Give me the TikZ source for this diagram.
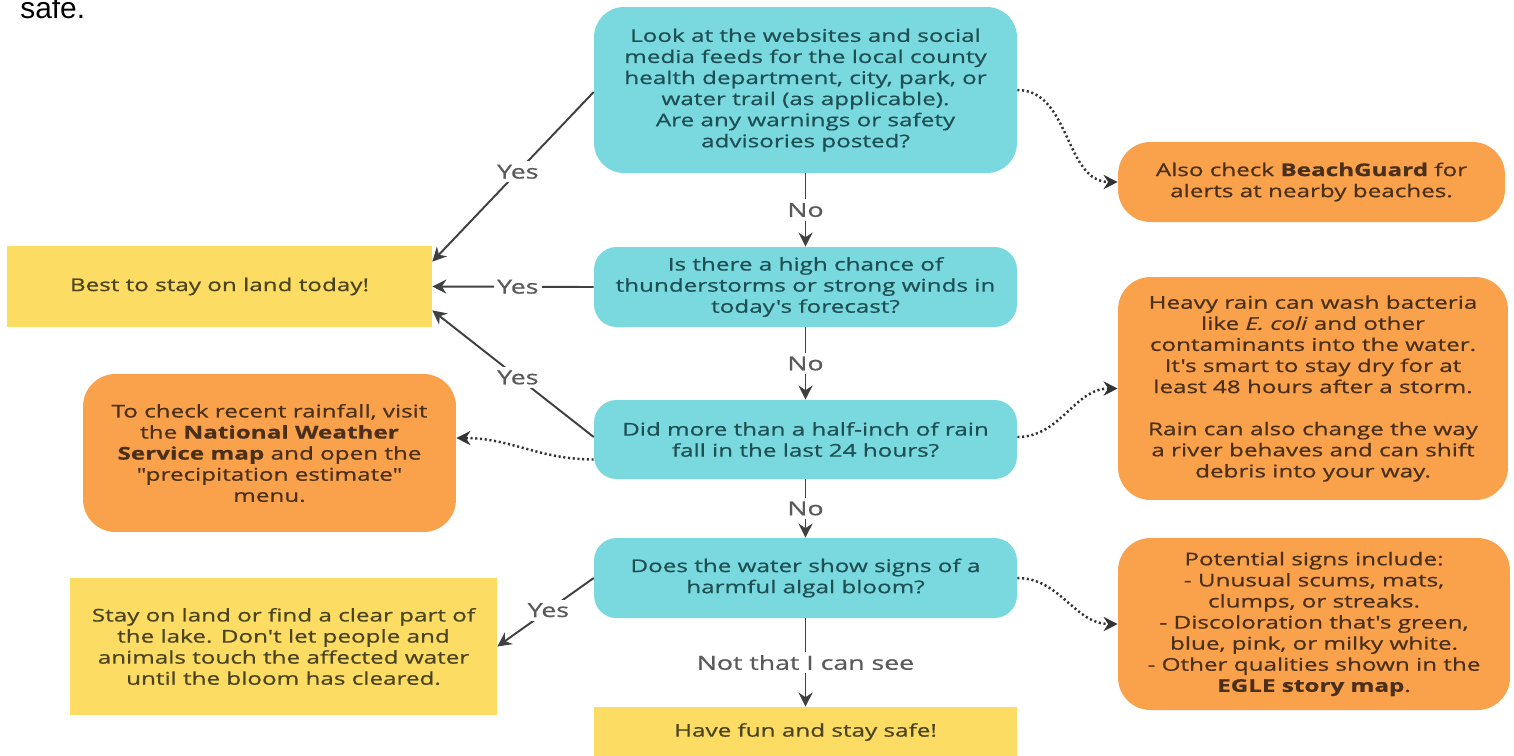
\documentclass[tikz,border=0pt]{standalone}
\usepackage{fontspec}
\setmainfont{Open Sans}[FakeStretch=1.38, FakeBold=0.7, Ligatures=TeXOff]
\newfontfamily\safefont{Liberation Sans}
\usetikzlibrary{arrows.meta}
\definecolor{qcyan}{HTML}{7AD9DF}
\definecolor{qtext}{HTML}{1E4F53}
\definecolor{oorange}{HTML}{F9A24B}
\definecolor{otext}{HTML}{4A2F1A}
\definecolor{yyellow}{HTML}{FCDC63}
\definecolor{ytext}{HTML}{4A4423}
\definecolor{linegray}{HTML}{404040}
\definecolor{labelgray}{HTML}{5A5A5A}
\definecolor{dotgray}{HTML}{333333}
\begin{document}
\begin{tikzpicture}[x=0.02cm,y=-0.02cm,
  box/.style={draw=none, align=center, inner sep=0pt, font=\fontsize{10}{12}\selectfont},
  qbox/.style={box, fill=qcyan, text=qtext, rounded corners=0.45cm},
  obox/.style={box, fill=oorange, text=otext, rounded corners=0.65cm},
  ybox/.style={box, fill=yyellow, text=ytext},
  conn/.style={draw=linegray, line width=1.1pt, -{Stealth[length=8pt,width=8pt]}},
  dotconn/.style={draw=dotgray, line width=1.4pt, dash pattern=on 1.2pt off 1.5pt, -{Stealth[length=8pt,width=8pt]}},
  lbl/.style={fill=white, text=labelgray, inner sep=2pt, font=\fontsize{11}{13}\selectfont}]
\useasboundingbox (0,0) rectangle (1514,755);
\clip (0,0) rectangle (1514,755);
\fill[white] (0,0) rectangle (1514,755);

\node[anchor=base west, inner sep=0pt, font=\safefont\fontsize{17}{20}\selectfont] (safe) at (20,18) {safe.};

% question boxes
\node[qbox, rounded corners=0.6cm, minimum width=8.46cm, minimum height=3.32cm] (Q1) at (805.5,90)
  {Look at the websites and social\\ media feeds for the local county\\ health department, city, park, or\\ water trail (as applicable).\\ Are any warnings or safety\\ advisories posted?};
\node[qbox, minimum width=8.46cm, minimum height=1.6cm] (Q2) at (805.5,287)
  {Is there a high chance of\\ thunderstorms or strong winds in\\ today's forecast?};
\node[qbox, minimum width=8.46cm, minimum height=1.58cm] (Q3) at (805.5,439.5)
  {Did more than a half-inch of rain\\ fall in the last 24 hours?};
\node[qbox, minimum width=8.46cm, minimum height=1.6cm] (Q4) at (805.5,578)
  {Does the water show signs of a\\ harmful algal bloom?};
\node[ybox, minimum width=8.46cm, minimum height=1.0cm] (Fun) at (805.5,732)
  {Have fun and stay safe!};

% yellow outcome boxes
\node[ybox, minimum width=8.5cm, minimum height=1.62cm] (Best) at (219.5,286.5)
  {Best to stay on land today!};
\node[ybox, minimum width=8.54cm, minimum height=2.74cm] (Stay) at (283.5,646.5)
  {Stay on land or find a clear part of\\ the lake. Don't let people and\\ animals touch the affected water\\ until the bloom has cleared.};

% orange info boxes
\node[obox, minimum width=7.74cm, minimum height=1.6cm] (Beach) at (1311.5,182)
  {Also check \textbf{BeachGuard} for\\ alerts at nearby beaches.};
\node[obox, minimum width=7.8cm, minimum height=4.46cm] (Heavy) at (1313,388.5)
  {Heavy rain can wash bacteria\\ like \textit{E. coli} and other\\ contaminants into the water.\\ It's smart to stay dry for at\\ least 48 hours after a storm.\\[12pt] Rain can also change the way\\ a river behaves and can shift\\ debris into your way.};
\node[obox, minimum width=7.84cm, minimum height=3.44cm] (Potential) at (1314,624)
  {Potential signs include:\\ - Unusual scums, mats,\\ clumps, or streaks.\\ - Discoloration that's green,\\ blue, pink, or milky white.\\ - Other qualities shown in the\\ \textbf{EGLE story map}.};
\node[obox, minimum width=7.46cm, minimum height=3.16cm] (Check) at (269.5,453)
  {To check recent rainfall, visit\\ the \textbf{National Weather}\\ \textbf{Service map} and open the\\ "precipitation estimate"\\ menu.};

% solid connectors
\draw[conn] ([yshift=-0.04cm]Q1.west) -- node[lbl,pos=0.47]{Yes} ([yshift=-0.32cm]Best.north east);
\draw[conn] (Q1.south) -- node[lbl]{No} (Q2.north);
\draw[conn] (Q2.west) -- node[lbl,pos=0.47]{Yes} (Best.east);
\draw[conn] (Q2.south) -- node[lbl]{No} (Q3.north);
\draw[conn] ([yshift=0.05cm]Q3.west) -- node[lbl,pos=0.47]{Yes} ([yshift=0.34cm]Best.south east);
\draw[conn] (Q3.south) -- node[lbl]{No} (Q4.north);
\draw[conn] (Q4.west) -- node[lbl,pos=0.47]{Yes} (Stay.east);
\draw[conn] (Q4.south) -- node[lbl]{Not that I can see} (Fun.north);

% dotted connectors
\draw[dotconn] (Q1.east) to[out=0,in=180] (Beach.west);
\draw[dotconn] ([yshift=0.05cm]Q3.east) to[out=0,in=180] (Heavy.west);
\draw[dotconn] ([yshift=-0.4cm]Q3.west) to[out=180,in=0] ([yshift=0.3cm]Check.east);
\draw[dotconn] (Q4.east) to[out=0,in=180] (Potential.west);
\end{tikzpicture}
\end{document}
